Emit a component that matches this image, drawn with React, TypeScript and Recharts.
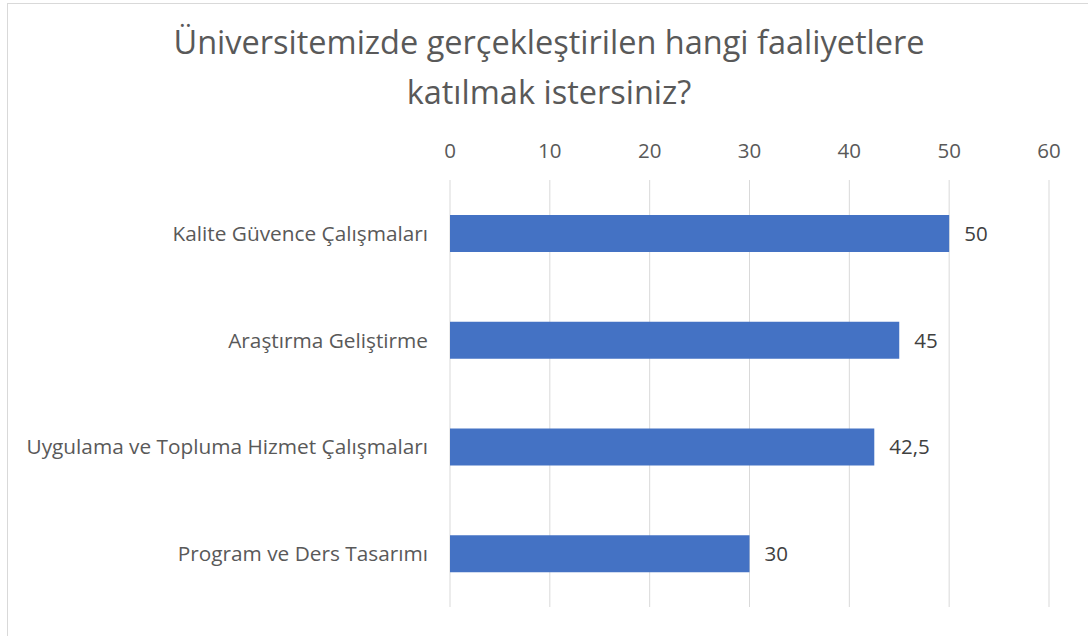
import { Bar, BarChart, CartesianGrid, LabelList, XAxis, YAxis } from "recharts";

const categories = [
  "Kalite Güvence Çalışmaları",
  "Araştırma Geliştirme",
  "Uygulama ve Topluma Hizmet Çalışmaları",
  "Program ve Ders Tasarımı",
];
const values = [50, 45, 42.5, 30];
const xTicks = [0, 10, 20, 30, 40, 50, 60];

const data = categories.map((name, i) => ({ name, value: values[i] }));

const FONT = "'Open Sans', sans-serif";

export default function App() {
  return (
    <div
      style={{
        position: "fixed",
        left: 0,
        top: 0,
        width: 1088,
        height: 636,
        background: "#fff",
        overflow: "hidden",
        fontFamily: FONT,
      }}
    >
      <div
        style={{
          position: "absolute",
          left: 7,
          top: 3,
          width: 1100,
          height: 700,
          border: "1px solid #D9D9D9",
        }}
      />
      <div
        style={{
          position: "absolute",
          left: 0,
          top: 17,
          width: 1098,
          textAlign: "center",
          fontSize: 32.5,
          lineHeight: "50px",
          color: "#595959",
        }}
      >
        Üniversitemizde gerçekleştirilen hangi faaliyetlere
        <br />
        katılmak istersiniz?
      </div>
      <div style={{ position: "absolute", left: 0, top: 0 }}>
        <BarChart
          width={1088}
          height={636}
          data={data}
          layout="vertical"
          margin={{ top: 140, right: 39, bottom: 29, left: 20 }}
        >
          <CartesianGrid horizontal={false} stroke="#D9D9D9" />
          <XAxis
            type="number"
            orientation="top"
            domain={[0, 60]}
            ticks={xTicks}
            height={40}
            axisLine={false}
            tickLine={false}
            tickMargin={16}
            tick={{ fill: "#595959", fontSize: 20.5, fontFamily: FONT }}
          />
          <YAxis
            type="category"
            dataKey="name"
            width={430}
            axisLine={false}
            tickLine={false}
            tickMargin={16}
            tick={{ fill: "#595959", fontSize: 20.8, fontFamily: FONT }}
          />
          <Bar dataKey="value" fill="#4472C4" barSize={37} isAnimationActive={false}>
            <LabelList
              dataKey="value"
              position="right"
              offset={15}
              fill="#404040"
              fontSize={20.5}
              fontFamily={FONT}
              formatter={(v: any) => String(v).replace(".", ",")}
            />
          </Bar>
        </BarChart>
      </div>
    </div>
  );
}
